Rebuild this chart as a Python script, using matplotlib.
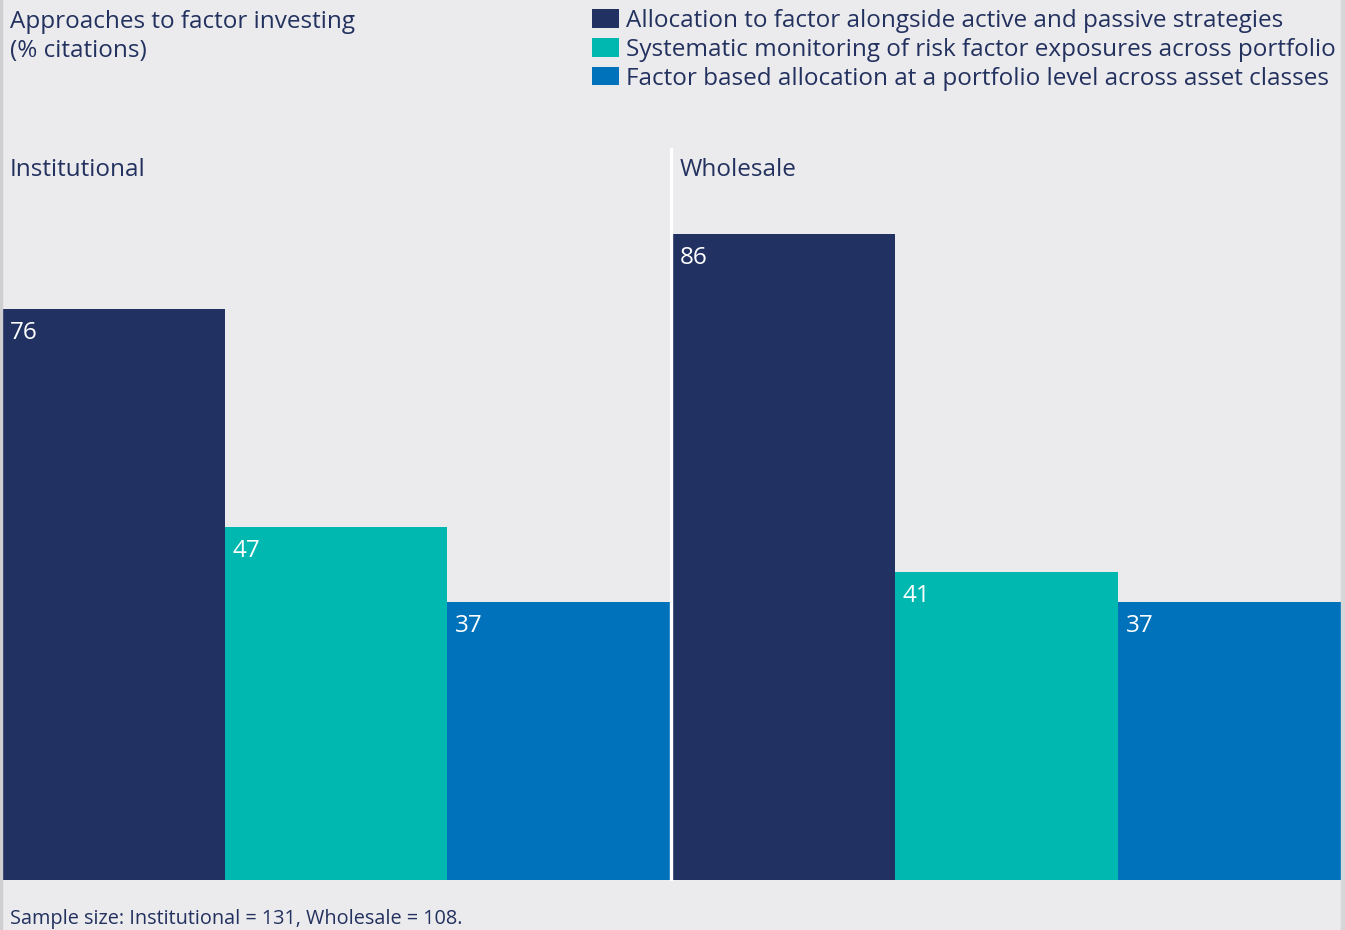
import matplotlib.pyplot as plt
from matplotlib.patches import Patch, Rectangle

# donnees
groupes = ["Institutional", "Wholesale"]
series = ["Allocation to factor alongside active and passive strategies",
          "Systematic monitoring of risk factor exposures across portfolio",
          "Factor based allocation at a portfolio level across asset classes"]
valeurs_inst = [76, 47, 37]
valeurs_whol = [86, 41, 37]
couleurs = ["#203162", "#00B8B0", "#0072BB"]

fond = "#EBEBED"
texte = "#23315F"
plt.rcParams['font.family'] = ['Open Sans', 'DejaVu Sans']
taille = 17.5

W, H = 1345, 930
fig = plt.figure(figsize=(W / 100, H / 100), dpi=100, facecolor=fond)

def px(x0, y0, x1, y1):
    # coordonnees pixel -> fraction figure
    return [x0 / W, 1 - y1 / H, (x1 - x0) / W, (y1 - y0) / H]

# bordures grises
fig.patches.append(Rectangle((0, 0), 2 / W, 1, transform=fig.transFigure, color="#CFCFD2", zorder=0))
fig.patches.append(Rectangle((1341 / W, 0), 4 / W, 1, transform=fig.transFigure, color="#D6D6D9", zorder=0))

axes = [fig.add_axes(px(2, 148, 670, 880)), fig.add_axes(px(672, 148, 1341, 880))]
ymax = (880 - 148) / 7.51

for ax, nom, vals, x_lab in zip(axes, groupes, [valeurs_inst, valeurs_whol], [10, 680]):
    ax.set_facecolor(fond)
    barres = ax.bar(range(3), vals, width=1.0, color=couleurs, align="edge")
    ax.set_xlim(0, 3)
    ax.set_ylim(0, ymax)
    ax.axis("off")
    for b, v in zip(barres, vals):
        ax.annotate(str(v), (b.get_x(), v), xytext=(5.5, -17), textcoords="offset points",
                    ha="left", va="center", color="white", fontsize=taille)
    fig.text(x_lab / W, 1 - 170 / H, nom, ha="left", va="center", color=texte, fontsize=taille)

# ligne blanche de separation
fig.patches.append(Rectangle((670 / W, 1 - 880 / H), 2 / W, (880 - 148) / H,
                             transform=fig.transFigure, color="white", zorder=3))

fig.text(10 / W, 1 - 22 / H, "Approaches to factor investing", ha="left", va="center",
         color=texte, fontsize=taille)
fig.text(10 / W, 1 - 51 / H, "(% citations)", ha="left", va="center",
         color=texte, fontsize=taille)

poignees = [Patch(facecolor=c, edgecolor="none") for c in couleurs]
leg = fig.legend(poignees, series, loc="upper left", bbox_to_anchor=(592 / W, 1 - 9 / H),
                 frameon=False, fontsize=taille, handlelength=1.1, handleheight=0.78,
                 handletextpad=0.29, labelspacing=0.2, borderpad=0, borderaxespad=0)
for t in leg.get_texts():
    t.set_color(texte)

fig.text(10 / W, 1 - 919 / H, "Sample size: Institutional = 131, Wholesale = 108.", ha="left", va="center",
         color=texte, fontsize=14.3)

fig.savefig("out.png", dpi=100, facecolor=fond)
